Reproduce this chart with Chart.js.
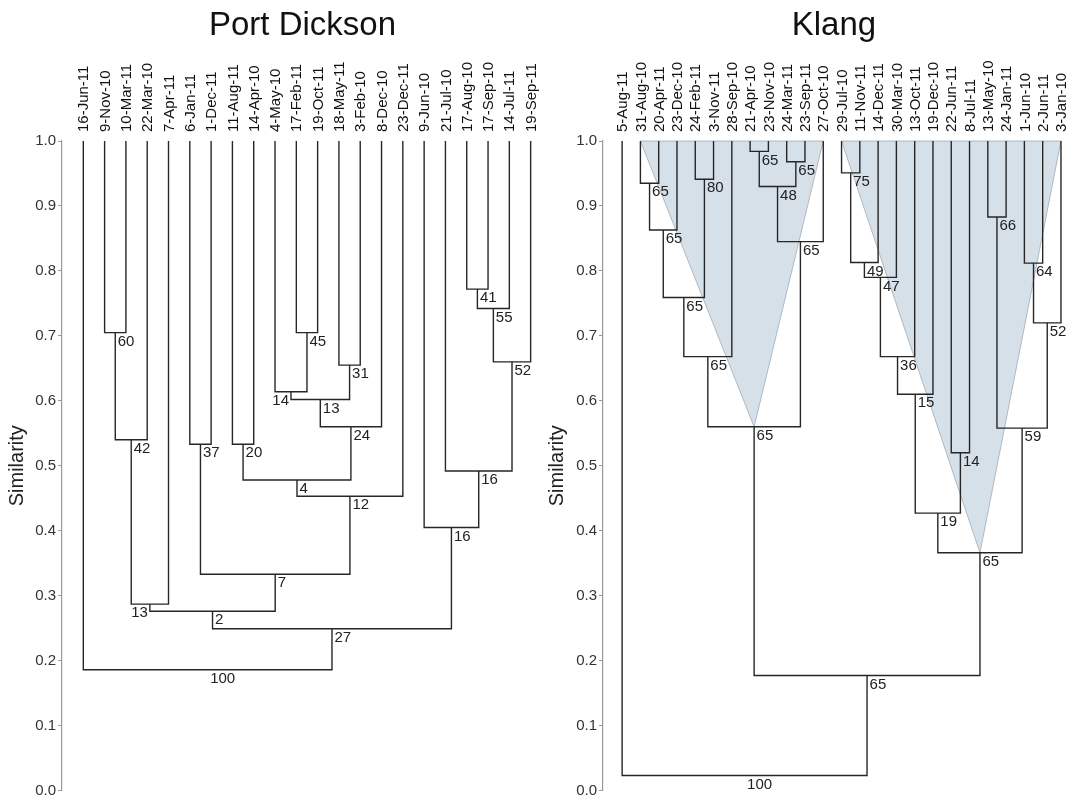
<!DOCTYPE html>
<html>
<head>
<meta charset="utf-8">
<script src="https://cdn.jsdelivr.net/npm/chart.js@4.4.1/dist/chart.umd.min.js"></script>
<style>
  body { margin: 0; background: #fff; overflow: hidden; }
  canvas { position: absolute; top: 0; }
  #pd { left: 0; }
  #kl { left: 545px; }
</style>
</head>
<body>
<canvas id="pd" width="545" height="800"></canvas>
<canvas id="kl" width="525" height="800"></canvas>
<script>
// Port Dickson: leaves (top labels) and merges, linkage style:
// ids < leaves.length are leaves, higher ids are earlier merges
const pdLeaves = ['16-Jun-11','9-Nov-10','10-Mar-11','22-Mar-10','7-Apr-11','6-Jan-11','1-Dec-11','11-Aug-11',
  '14-Apr-10','4-May-10','17-Feb-11','19-Oct-11','18-May-11','3-Feb-10','8-Dec-10','23-Dec-11','9-Jun-10',
  '21-Jul-10','17-Aug-10','17-Sep-10','14-Jul-11','19-Sep-11'];
const pdLeft   = [1, 22, 5, 7, 10, 9, 12, 27, 29, 25, 31, 18, 33, 34, 17, 16, 24, 23, 39, 40, 0];
const pdRight  = [2, 3, 6, 8, 11, 26, 13, 28, 14, 30, 15, 19, 20, 21, 35, 36, 32, 4, 38, 37, 41];
const pdHeight = [0.705, 0.540, 0.533, 0.533, 0.705, 0.614, 0.655, 0.602, 0.560, 0.478, 0.453,
  0.772, 0.742, 0.660, 0.492, 0.405, 0.333, 0.287, 0.276, 0.249, 0.186];
const pdLabels = ['60','42','37','20','45','14','31','13','24','4','12','41','55','52','16','16','7','13','2','27','100'];

// Klang
const klLeaves = ['5-Aug-11','31-Aug-10','20-Apr-11','23-Dec-10','24-Feb-11','3-Nov-11','28-Sep-10','21-Apr-10',
  '23-Nov-10','24-Mar-11','23-Sep-11','27-Oct-10','29-Jul-10','11-Nov-11','14-Dec-11','30-Mar-10','13-Oct-11',
  '19-Dec-10','22-Jun-11','8-Jul-11','13-May-10','24-Jan-11','1-Jun-10','2-Jun-11','3-Jan-10'];
const klLeft   = [1, 25, 4, 26, 28, 7, 9, 30, 32, 29, 12, 35, 36, 37, 38, 18, 39, 20, 22, 43, 42, 41, 34, 0];
const klRight  = [2, 3, 5, 27, 6, 8, 10, 31, 11, 33, 13, 14, 15, 16, 17, 19, 40, 21, 23, 24, 44, 45, 46, 47];
const klHeight = [0.935, 0.863, 0.941, 0.759, 0.668, 0.984, 0.968, 0.930, 0.845, 0.560, 0.951, 0.813, 0.790,
  0.668, 0.610, 0.520, 0.427, 0.883, 0.812, 0.720, 0.558, 0.366, 0.177, 0.023];
const klLabels = ['65','65','80','65','65','65','65','48','65','65','75','49','47','36','15','14','19','66','64','52','59','65','65','100'];
// shaded wedges: first leaf, last leaf, apex node
const klWedges = [[1, 11, 34], [12, 24, 46]];

const yTicks = [0, 0.1, 0.2, 0.3, 0.4, 0.5, 0.6, 0.7, 0.8, 0.9, 1.0];

const FONT = "'Liberation Sans', Arial, sans-serif";

function buildTree(leaves, left, right, height) {
  const pos = leaves.map((_, i) => i);
  const hgt = leaves.map(() => 1);
  const datasets = [];
  const nodes = [];
  left.forEach((a, k) => {
    const b = right[k], h = height[k];
    datasets.push({
      data: [{x: pos[a], y: hgt[a]}, {x: pos[a], y: h}, {x: pos[b], y: h}, {x: pos[b], y: hgt[b]}],
      showLine: true, borderColor: '#262626', borderWidth: 1.4, pointRadius: 0, fill: false, tension: 0
    });
    const mid = (pos[a] + pos[b]) / 2;
    nodes.push({x: mid, y: h});
    pos.push(mid);
    hgt.push(h);
  });
  return {datasets, nodes, pos, hgt};
}

function makeChart(id, title, leaves, left, right, height, labels, cfg) {
  const tree = buildTree(leaves, left, right, height);
  const decor = {
    id: 'decor',
    beforeDatasetsDraw(chart) {
      const {ctx, scales: {x, y}} = chart;
      (cfg.wedges || []).forEach(([l0, l1, apex]) => {
        ctx.save();
        ctx.beginPath();
        ctx.moveTo(x.getPixelForValue(tree.pos[l0]), y.getPixelForValue(1));
        ctx.lineTo(x.getPixelForValue(tree.pos[l1]), y.getPixelForValue(1));
        ctx.lineTo(x.getPixelForValue(tree.pos[apex]), y.getPixelForValue(tree.hgt[apex]));
        ctx.closePath();
        ctx.fillStyle = '#d6e0e9';
        ctx.fill();
        ctx.strokeStyle = '#a3abb3';
        ctx.lineWidth = 0.8;
        ctx.stroke();
        ctx.restore();
      });
    },
    afterDatasetsDraw(chart) {
      const {ctx, scales: {x, y}} = chart;
      ctx.save();
      ctx.font = '15px ' + FONT;
      ctx.fillStyle = '#222';
      ctx.textBaseline = 'top';
      tree.nodes.forEach((n, k) => {
        const px = x.getPixelForValue(n.x), py = y.getPixelForValue(n.y);
        if ((cfg.leftLabels || []).includes(k)) {
          ctx.textAlign = 'right';
          ctx.fillText(labels[k], px - 2, py + 1.5);
        } else {
          ctx.textAlign = 'left';
          ctx.fillText(labels[k], px + 2.5, py + 1.5);
        }
      });
      ctx.restore();
    }
  };

  return new Chart(document.getElementById(id), {
    type: 'scatter',
    data: {datasets: tree.datasets},
    plugins: [decor],
    options: {
      responsive: false,
      animation: false,
      devicePixelRatio: 1,
      layout: {padding: {top: 0, left: 0, right: cfg.padRight, bottom: 0}},
      plugins: {
        legend: {display: false},
        tooltip: {enabled: false},
        title: {
          display: true, text: title, color: '#111', fullSize: false,
          font: {family: "'Liberation Sans Narrow', 'Liberation Sans', Arial, sans-serif", size: 33, weight: 'normal', lineHeight: 1.2},
          padding: {top: 6, bottom: 0}
        }
      },
      scales: {
        x: {
          type: 'linear', position: 'top', min: cfg.xMin, max: cfg.xMax,
          grid: {display: false, drawTicks: false},
          border: {display: false},
          afterBuildTicks(scale) { scale.ticks = leaves.map((_, i) => ({value: i})); },
          afterFit(scale) { scale.height = 141 - 45.6; },
          ticks: {
            autoSkip: false, minRotation: 90, maxRotation: 90, padding: 9, labelOffset: 19,
            color: '#111', font: {family: FONT, size: 15},
            callback: (v) => leaves[v]
          }
        },
        y: {
          type: 'linear', min: 0, max: 1,
          afterBuildTicks(scale) { scale.ticks = yTicks.map(v => ({value: v})); },
          afterFit(scale) { scale.width = cfg.yWidth; },
          grid: {display: true, drawOnChartArea: false, drawTicks: true, tickLength: 4, color: '#999'},
          border: {display: true, color: '#999', width: 1.2},
          title: {display: true, text: 'Similarity', color: '#222', font: {family: FONT, size: 20}, padding: {top: cfg.titlePad, bottom: 0}},
          ticks: {padding: 2, color: '#333', font: {family: FONT, size: 15, lineHeight: 1}, callback: (v) => v.toFixed(1)}
        }
      }
    }
  });
}

makeChart('pd', 'Port Dickson', pdLeaves, pdLeft, pdRight, pdHeight, pdLabels,
  {xMin: -1, xMax: 21.58, yWidth: 62, padRight: 2, titlePad: 5, leftLabels: [5, 17]});
makeChart('kl', 'Klang', klLeaves, klLeft, klRight, klHeight, klLabels,
  {xMin: -1.046, xMax: 24.21, yWidth: 58, padRight: 1, titlePad: 0, wedges: klWedges});
</script>
</body>
</html>
